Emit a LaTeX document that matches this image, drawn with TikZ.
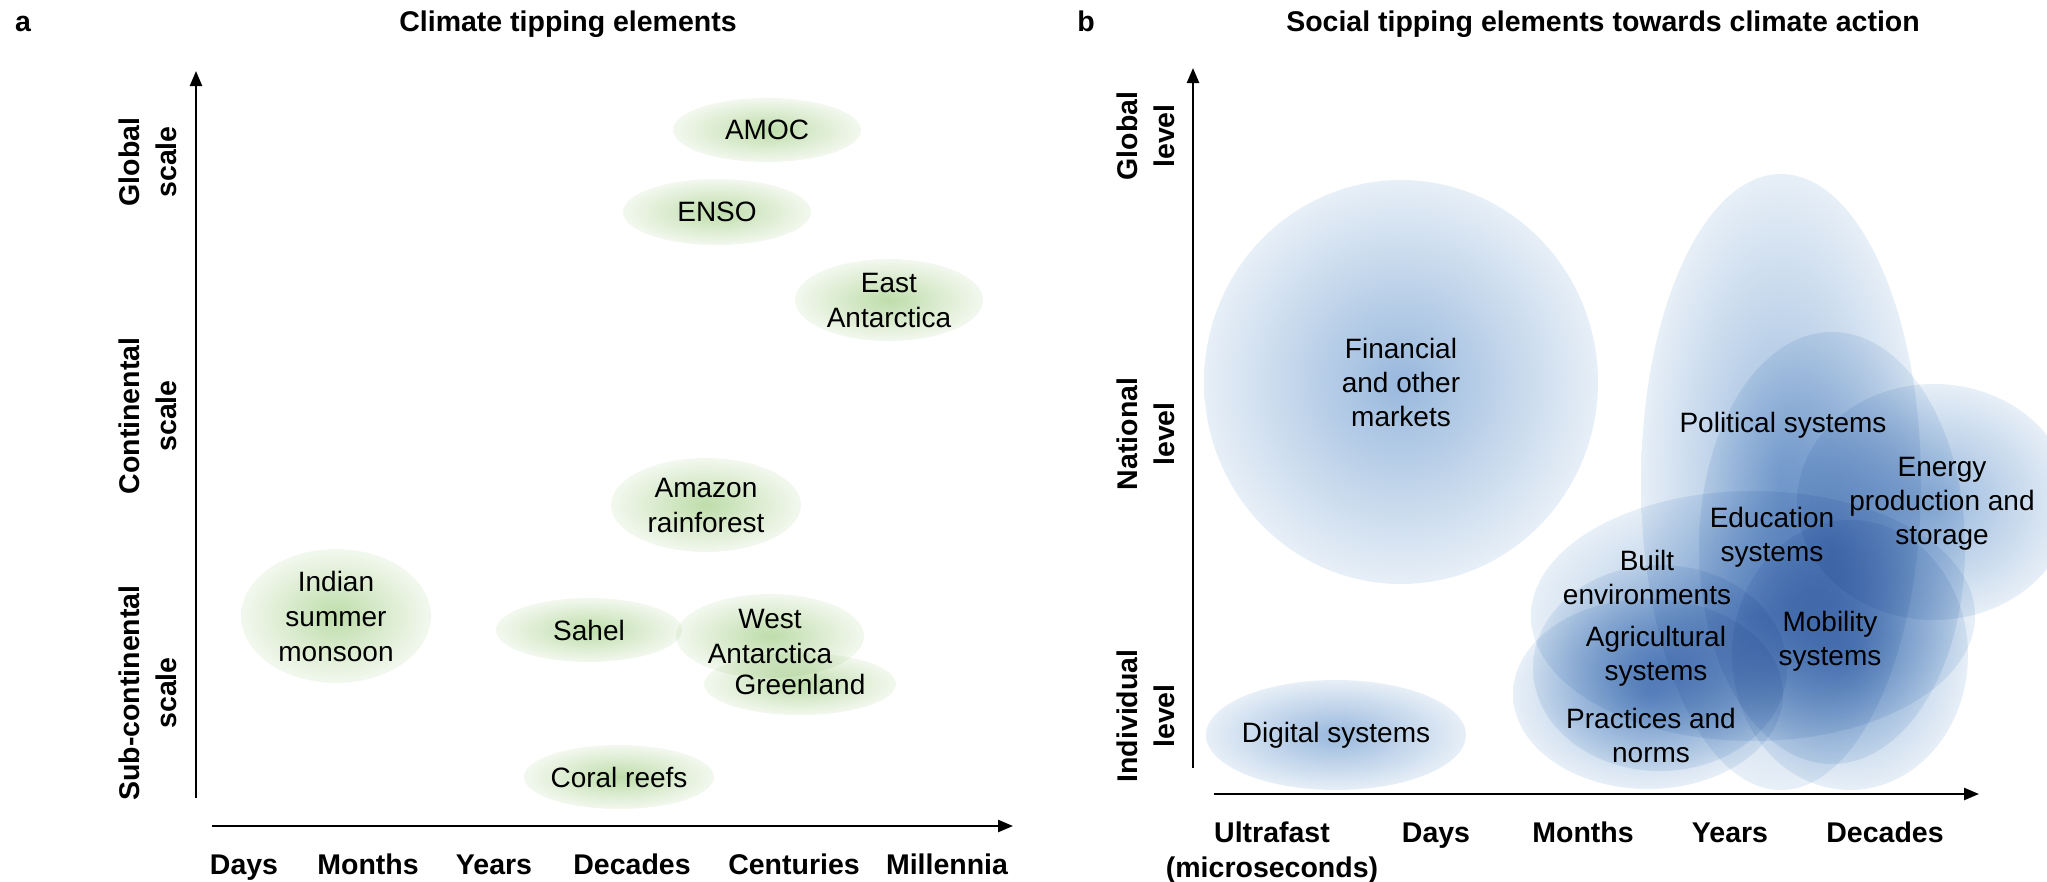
\documentclass[tikz,border=0pt]{standalone}
\usepackage{fontspec}
\setmainfont{Liberation Sans}
\usetikzlibrary{shapes.geometric, arrows.meta}

\definecolor{gcore}{RGB}{190,221,170}
\definecolor{gedge}{RGB}{243,248,239}
\definecolor{bcore}{RGB}{152,184,221}
\definecolor{bedge}{RGB}{231,239,247}

\tikzset{
    axisline/.style={line width=2.4pt, -{Triangle[length=15pt, width=12pt]}},
    blob/.style={ellipse, inner sep=-15pt},
    gblob/.style={blob, inner color=gcore, outer color=gedge},
    bblob/.style={blob, inner color=bcore, outer color=bedge},
    lab/.style={font=\fontsize{28}{35}\selectfont, align=center},
    blab/.style={font=\fontsize{28}{34}\selectfont, align=center},
    tick/.style={font=\bfseries\fontsize{28.5}{35}\selectfont, anchor=base, align=center},
    axlab/.style={font=\bfseries\fontsize{28.5}{37}\selectfont, align=center, rotate=90},
    ttl/.style={font=\bfseries\fontsize{28.5}{35}\selectfont, anchor=base}
}

\begin{document}
\begin{tikzpicture}[x=1pt, y=-1pt]
    \useasboundingbox (0,0) rectangle (2047,881);

    % ---------------- panel a ----------------
    \node[ttl] (atag) at (23,31) {a};
    \node[ttl] (atitle) at (568,31) {Climate tipping elements};

    % axes
    \coordinate (ay0) at (196,798);
    \coordinate (ay1) at (196,71);
    \coordinate (ax0) at (212,826);
    \coordinate (ax1) at (1013,826);
    \draw[axisline] (ay0) -- (ay1);
    \draw[axisline] (ax0) -- (ax1);

    % scale labels
    \node[axlab] (aglob) at (148,162) {Global\\scale};
    \node[axlab] (acont) at (148,416) {Continental\\scale};
    \node[axlab] (asubc) at (148,693) {Sub-continental\\scale};

    % time labels
    \foreach \x/\t in {244/Days, 368/Months, 494/Years, 632/Decades, 794/Centuries, 947/Millennia}
        \node[tick] (a\t) at (\x,874) {\t};

    % tipping elements
    \begin{scope}[blend mode=multiply]
        \node[gblob, lab, minimum width=188pt, minimum height=64pt] (amoc) at (767,130) {AMOC};
        \node[gblob, lab, minimum width=188pt, minimum height=66pt] (enso) at (717,212) {ENSO};
        \node[gblob, lab, minimum width=188pt, minimum height=82pt] (eant) at (889,300) {East\\Antarctica};
        \node[gblob, lab, minimum width=190pt, minimum height=94pt] (amaz) at (706,505) {Amazon\\rainforest};
        \node[gblob, lab, minimum width=190pt, minimum height=134pt] (indi) at (336,616) {Indian\\summer\\monsoon};
        \node[gblob, lab, minimum width=186pt, minimum height=64pt] (sahel) at (589,630) {Sahel};
        \node[gblob, lab, minimum width=188pt, minimum height=84pt] (want) at (770,636) {West\\Antarctica};
        \node[gblob, lab, minimum width=192pt, minimum height=62pt] (green) at (800,684) {Greenland};
        \node[gblob, lab, minimum width=190pt, minimum height=64pt] (coral) at (619,777) {Coral reefs};
    \end{scope}

    % ---------------- panel b ----------------
    \node[ttl] (btag) at (1086,31) {b};
    \node[ttl] (btitle) at (1603,31) {Social tipping elements towards climate action};

    % axes
    \coordinate (by0) at (1193,768);
    \coordinate (by1) at (1193,68);
    \coordinate (bx0) at (1214,794);
    \coordinate (bx1) at (1979,794);
    \draw[axisline] (by0) -- (by1);
    \draw[axisline] (bx0) -- (bx1);

    % level labels
    \node[axlab] (bglob) at (1146,136) {Global\\level};
    \node[axlab] (bnat) at (1146,434) {National\\level};
    \node[axlab] (bind) at (1146,716) {Individual\\level};

    % time labels (base of a two-line node is its last line)
    \node[tick] (bUltra) at (1272,877) {Ultrafast\\(microseconds)};
    \foreach \x/\t in {1436/Days, 1583/Months, 1730/Years, 1885/Decades}
        \node[tick] (b\t) at (\x,842) {\t};

    % social tipping elements
    \begin{scope}[blend mode=multiply]
        \node[bblob, minimum width=394pt, minimum height=404pt] (fin) at (1401,382) {};
        \node[bblob, minimum width=260pt, minimum height=110pt] (dig) at (1336,735) {};
        \node[bblob, minimum width=280pt, minimum height=616pt] (pol) at (1781,482) {};
        \node[bblob, minimum width=266pt, minimum height=432pt] (edu) at (1832,548) {};
        \node[bblob, minimum width=274pt, minimum height=236pt] (enr) at (1934,502) {};
        \node[bblob, minimum width=444pt, minimum height=250pt] (blt) at (1753,616) {};
        \node[bblob, minimum width=254pt, minimum height=206pt] (agr) at (1660,668) {};
        \node[bblob, minimum width=236pt, minimum height=270pt] (mob) at (1850,655) {};
        \node[bblob, minimum width=270pt, minimum height=190pt] (prc) at (1648,694) {};
    \end{scope}

    \node[blab] (fintxt) at (fin) {Financial\\and other\\markets};
    \node[blab] (digtxt) at (dig) {Digital systems};
    \node[blab] (poltxt) at (1783,425) {Political systems};
    \node[blab] (enrtxt) at (1942,504) {Energy\\production and\\storage};
    \node[blab] (edutxt) at (1772,537) {Education\\systems};
    \node[blab] (blttxt) at (1647,577) {Built\\environments};
    \node[blab] (agrtxt) at (1656,656) {Agricultural\\systems};
    \node[blab] (mobtxt) at (1830,641) {Mobility\\systems};
    \node[blab] (prctxt) at (1651,735) {Practices and\\norms};
\end{tikzpicture}
\end{document}
